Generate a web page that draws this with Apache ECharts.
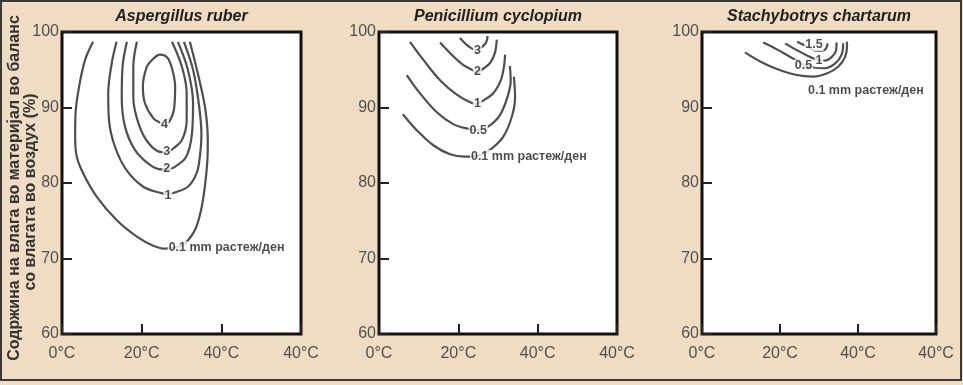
<!DOCTYPE html>
<html>
<head>
<meta charset="utf-8">
<script src="https://cdn.jsdelivr.net/npm/echarts@6/dist/echarts.min.js"></script>
<style>
  html, body { margin: 0; padding: 0; background: #efdcc3; }
  #chart { width: 963px; height: 385px; }
</style>
</head>
<body>
<div id="chart"></div>
<script>
// ---------- data ----------
const panelTitles = ['Aspergillus ruber', 'Penicillium cyclopium', 'Stachybotrys chartarum'];
const xTickLabels = ['0°C', '20°C', '40°C', '40°C'];
const yAxisTitle1 = 'Содржина на влага во материјал во баланс';
const yAxisTitle2 = 'со влагата во воздух (%)';
const growthUnitLabel = '0.1 mm растеж/ден';

// Aspergillus ruber contours  [temperature °C, moisture %]
const asp_01 = [[7.8,98.7],[5.8,96.3],[4.3,92.8],[3.4,89.2],[3.3,86.1],[3.7,83.5],[5.3,81.3],[8.7,78.2],[13.7,75.1],[18.8,72.9],[22.9,71.7],[26.0,71.3],[29.5,71.6],[31.1,72.1],[33.4,73.8],[34.9,76.4],[35.9,79.7],[36.5,83.0],[36.6,85.7],[36.0,89.7],[34.5,93.6],[32.1,98.7]];
const asp_1  = [[13.7,98.7],[12.5,95.9],[11.6,91.9],[11.8,88.3],[13.3,84.8],[16.2,81.7],[20.4,79.5],[24.6,78.7],[26.4,78.5],[28.1,78.7],[31.6,79.5],[33.8,81.3],[34.6,83.5],[35.0,86.4],[34.4,90.3],[32.9,95.0],[30.6,98.7]];
const asp_2  = [[16.3,98.7],[15.2,95.4],[15.0,91.4],[15.8,87.5],[18.3,84.4],[22.1,82.4],[25.0,81.8],[26.3,81.8],[27.9,82.0],[31.1,83.4],[32.6,86.4],[32.9,90.6],[31.6,95.0],[29.1,98.7]];
const asp_3  = [[18.8,98.7],[17.9,95.4],[17.9,91.4],[19.2,87.9],[21.7,85.3],[25.0,84.1],[26.3,84.1],[27.5,84.4],[30.1,85.7],[31.3,88.3],[31.3,91.9],[30.1,95.4],[27.6,98.7]];
const asp_4  = [[25.7,87.8],[26.9,88.1],[28.1,89.7],[28.4,92.8],[27.5,95.4],[26.3,96.7],[24.6,97.0],[22.6,96.3],[21.3,95.4],[20.3,92.8],[20.8,90.6],[22.9,88.6],[24.6,88.0],[25.7,87.8]];
const asp_labels = [[26.4,71.4,growthUnitLabel,'right'],[26.6,78.4,'1','inside'],[26.3,81.9,'2','inside'],[26.3,84.1,'3','inside'],[25.7,87.8,'4','inside']];

// Penicillium cyclopium contours
const pen_01 = [[6.0,89.1],[9.5,87.0],[13.7,85.0],[17.9,83.8],[21.7,83.5],[25.0,83.6],[28.0,84.4],[31.3,86.1],[33.5,88.8],[34.3,91.4],[34.0,94.1]];
const pen_05 = [[7.0,94.3],[10.3,91.9],[14.5,89.4],[18.7,87.8],[22.3,87.2],[25.0,87.0],[27.6,87.5],[30.5,89.0],[32.4,91.4],[33.2,93.6],[33.0,95.5]];
const pen_1  = [[7.8,98.7],[11.2,96.3],[15.4,93.6],[19.6,91.7],[23.4,90.6],[24.8,90.5],[25.9,90.8],[28.8,91.9],[30.7,93.6],[31.5,95.4],[31.8,97.0]];
const pen_2  = [[15.4,98.6],[18.3,97.0],[21.3,95.6],[23.8,94.9],[24.8,94.7],[25.9,95.0],[28.0,95.9],[29.2,97.2],[29.7,99.0]];
const pen_3  = [[20.4,99.2],[22.1,98.3],[23.8,97.7],[24.8,97.6],[25.9,98.0],[27.0,98.6],[27.4,99.5]];
const pen_labels = [[22.8,83.5,growthUnitLabel,'right'],[25.0,87.0,'0.5','inside'],[24.8,90.5,'1','inside'],[24.8,94.7,'2','inside'],[24.8,97.6,'3','inside']];

// Stachybotrys chartarum contours
const sta_01 = [[11.0,97.3],[14.9,96.1],[19.2,95.1],[24.3,94.3],[28.5,94.1],[32.0,94.5],[34.9,95.4],[36.7,96.7],[37.2,98.3],[37.1,98.7]];
const sta_05 = [[15.7,98.6],[19.2,97.7],[22.6,96.7],[24.4,96.2],[26.0,95.7],[28.5,95.3],[31.5,95.2],[34.1,95.8],[35.8,97.0],[36.2,98.5]];
const sta_1  = [[21.3,98.5],[24.3,97.6],[27.3,96.8],[28.6,96.5],[30.0,96.3],[31.5,96.2],[33.3,96.7],[34.4,97.6],[34.5,98.6]];
const sta_15 = [[24.4,98.7],[27.2,98.0],[29.2,97.5],[30.8,97.5],[31.8,97.8],[32.2,98.5]];
const sta_labels = [[26.8,92.3,growthUnitLabel,'right'],[26.0,95.5,'0.5','inside'],[30.0,96.2,'1','inside'],[28.7,98.3,'1.5','inside']];

const panelContours = [[asp_01, asp_1, asp_2, asp_3, asp_4], [pen_01, pen_05, pen_1, pen_2, pen_3], [sta_01, sta_05, sta_1, sta_15]];
const panelLabels = [asp_labels, pen_labels, sta_labels];

// ---------- layout ----------
const FONT = "'Liberation Sans', Arial, sans-serif";
const grids = [
  { left: 62, top: 32, width: 239, height: 302 },
  { left: 379, top: 32, width: 238, height: 302 },
  { left: 702, top: 32, width: 234, height: 302 }
];

const xAxes = grids.map((g, i) => ({
  type: 'value', gridIndex: i, min: 0, max: 60, interval: 20,
  axisLine: { show: false },
  splitLine: { show: false },
  axisTick: { show: true, inside: true, length: 10, lineStyle: { color: '#222', width: 2 } },
  axisLabel: { margin: 12, color: '#505050', fontSize: 16, fontFamily: FONT,
    formatter: v => xTickLabels[Math.round(v / 20)] }
}));
const yAxes = grids.map((g, i) => ({
  type: 'value', gridIndex: i, min: 60, max: 100, interval: 10,
  axisLine: { show: false },
  splitLine: { show: false },
  axisTick: { show: true, inside: true, length: 10, lineStyle: { color: '#222', width: 2 } },
  axisLabel: { margin: 3, color: '#505050', fontSize: 16, fontFamily: FONT }
}));

const series = [];
panelContours.forEach((list, i) => {
  list.forEach(c => {
    series.push({
      type: 'line', xAxisIndex: i, yAxisIndex: i, data: c,
      showSymbol: false, symbol: 'none', smooth: 0.35, z: 2,
      lineStyle: { color: '#4f4f4f', width: 2.2 }, silent: true
    });
  });
  series.push({
    type: 'scatter', xAxisIndex: i, yAxisIndex: i, z: 5, symbolSize: 1,
    itemStyle: { color: 'rgba(0,0,0,0)' }, silent: true,
    data: panelLabels[i].map(l => ({
      value: [l[0], l[1]],
      label: { show: true, formatter: l[2], position: l[3], distance: 0,
        color: '#1e1e1e', fontSize: 12.5, fontWeight: 'bold', fontFamily: FONT,
        backgroundColor: '#fff', padding: [0, 1] }
    }))
  });
});

const graphic = [
  { type: 'rect', shape: { x: 1, y: 1, width: 960, height: 379 }, style: { fill: 'none', stroke: '#3a3a3a', lineWidth: 2 }, z: 100 },
  { type: 'text', x: 15, y: 188, rotation: Math.PI / 2,
    style: { text: yAxisTitle1, textAlign: 'center', textVerticalAlign: 'middle', fill: '#333', font: "bold 16px 'Liberation Sans', Arial, sans-serif" } },
  { type: 'text', x: 31, y: 192, rotation: Math.PI / 2,
    style: { text: yAxisTitle2, textAlign: 'center', textVerticalAlign: 'middle', fill: '#333', font: "bold 16px 'Liberation Sans', Arial, sans-serif" } }
];
grids.forEach((g, i) => {
  graphic.push({ type: 'text', x: g.left + g.width / 2, y: 17,
    style: { text: panelTitles[i], textAlign: 'center', textVerticalAlign: 'middle', fill: '#222', font: "italic bold 16px 'Liberation Sans', Arial, sans-serif" } });
});

const chart = echarts.init(document.getElementById('chart'), null, { renderer: 'canvas' });
chart.setOption({
  backgroundColor: '#efdcc3',
  animation: false,
  grid: grids.map(g => Object.assign({ show: true, backgroundColor: '#fff', borderColor: '#111', borderWidth: 3 }, g)),
  xAxis: xAxes,
  yAxis: yAxes,
  series: series,
  graphic: graphic
});
</script>
</body>
</html>
